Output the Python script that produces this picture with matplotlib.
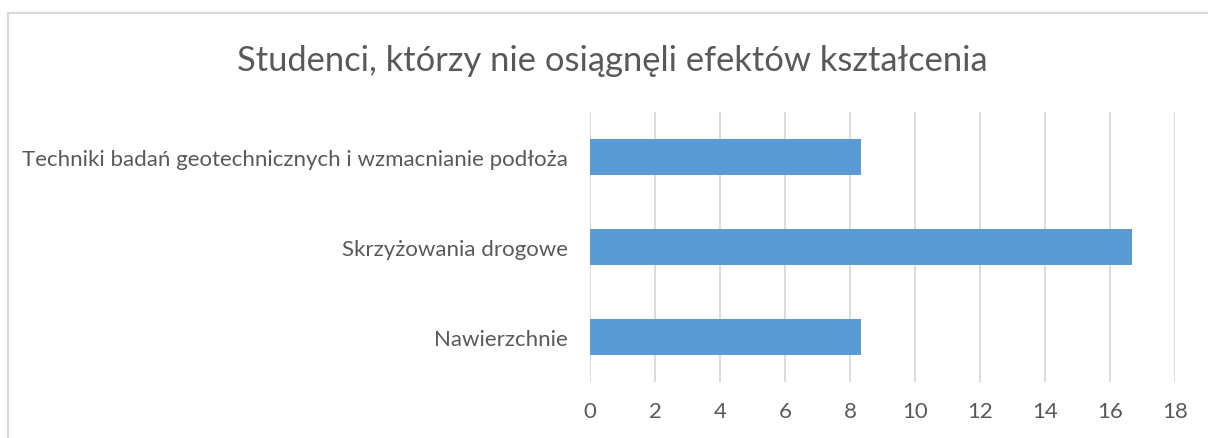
import matplotlib
matplotlib.use("Agg")
import matplotlib.pyplot as plt
from matplotlib.lines import Line2D

categories = ["Nawierzchnie", "Skrzyżowania drogowe",
              "Techniki badań geotechnicznych i wzmacnianie podłoża"]
values = [8.33, 16.67, 8.33]
xticks = [0, 2, 4, 6, 8, 10, 12, 14, 16, 18]
title = "Studenci, którzy nie osiągnęli efektów kształcenia"

plt.rcParams["font.family"] = ["Lato", "DejaVu Sans"]
text_color = "#595959"
grid_color = "#d9d9d9"
bar_color = "#5B9BD5"

W, H = 1208, 439
fig = plt.figure(figsize=(W / 100, H / 100), dpi=100)
ax = fig.add_axes([590 / W, 1 - 383 / H, (1175 - 590) / W, 270 / H])

y = range(len(categories))
ax.barh(y, values, height=0.4, color=bar_color, zorder=3)
ax.set_xlim(0, 18)
ax.set_ylim(-0.5, len(categories) - 0.5)
ax.set_xticks(xticks)
ax.set_xticklabels([str(t) for t in xticks], fontsize=16, color=text_color)
ax.set_yticks(list(y))
ax.set_yticklabels(categories, fontsize=16, color=text_color)
ax.tick_params(axis="both", length=0)
ax.tick_params(axis="x", pad=14)
ax.tick_params(axis="y", pad=16)
ax.grid(axis="x", color=grid_color, linewidth=1.3, zorder=0)
for s in ax.spines.values():
    s.set_visible(False)

fig.text(612 / W, 1 - 61 / H, title, ha="center", va="center",
         fontsize=24.8, color=text_color)

# chart frame
fx, fy = 8 / W, 1 - 14 / H
fig.add_artist(Line2D([fx, fx], [0, fy], transform=fig.transFigure,
                      color="#d9d9d9", linewidth=1.5))
fig.add_artist(Line2D([fx, 1], [fy, fy], transform=fig.transFigure,
                      color="#d9d9d9", linewidth=1.5))

fig.savefig("out.png", dpi=100, facecolor="white")
